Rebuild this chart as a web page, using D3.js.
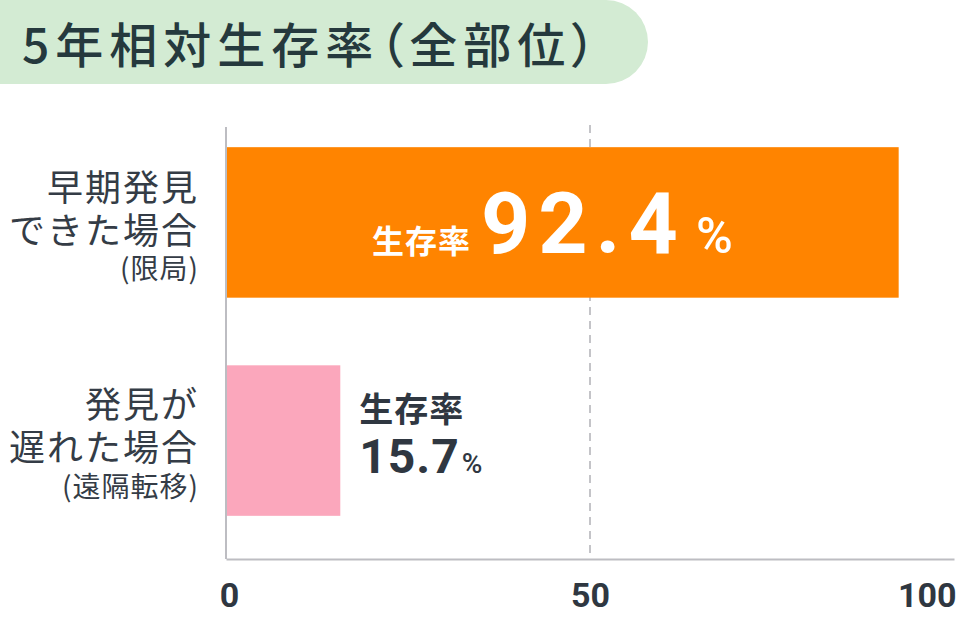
<!DOCTYPE html>
<html>
<head>
<meta charset="utf-8">
<script src="https://cdn.jsdelivr.net/npm/d3@7"></script>
<style>
  body { margin: 0; background: #fff; }
</style>
</head>
<body>
<script>
// data
var title = "5年相対生存率（全部位）";
var labelLines = [["早期発見", "できた場合"], ["発見が", "遅れた場合"]];
var subLabels = ["(限局)", "(遠隔転移)"];
var valueName = "生存率";
var values = [92.4, 15.7];
var xTicks = [0, 50, 100];
var refLine = 50;

var w = 960;
var h = 626;
var dark = "#2f3741";
var cjk = "'Noto Sans CJK JP', 'Noto Sans', sans-serif";
var num = "Roboto, 'Noto Sans CJK JP', sans-serif";

var svg = d3.select("body")
  .append("svg")
  .attr("width", w)
  .attr("height", h)
  .attr("font-family", cjk);

// title pill
svg.append("rect")
  .attr("x", -60)
  .attr("y", 0)
  .attr("width", 708)
  .attr("height", 84)
  .attr("rx", 42)
  .attr("fill", "#d3ebd3");

svg.append("text")
  .attr("x", 22)
  .attr("y", 63)
  .attr("font-size", "48px")
  .attr("font-weight", 500)
  .attr("letter-spacing", "6px")
  .attr("fill", "#25393d")
  .style("font-feature-settings", "'palt'")
  .text(title);

// scales
var x = d3.scaleLinear().domain([0, 100]).range([226, 954]);
var y = d3.scaleBand()
  .domain(d3.range(values.length))
  .range([121, 542])
  .paddingInner(0.31)
  .paddingOuter(0.12);

var axisY = 559;

// reference dashed line
svg.append("line")
  .attr("x1", x(refLine)).attr("x2", x(refLine))
  .attr("y1", 125).attr("y2", axisY)
  .attr("stroke", "#c4c4c8")
  .attr("stroke-width", 2)
  .attr("stroke-dasharray", "8,6");

// bars
var colors = ["#ff8400", "#fba7bc"];
svg.selectAll("rect.bar")
  .data(values)
  .enter()
  .append("rect")
  .attr("class", "bar")
  .attr("x", x(0))
  .attr("y", function(d, i) { return y(i); })
  .attr("width", function(d) { return x(d) - x(0); })
  .attr("height", y.bandwidth())
  .attr("fill", function(d, i) { return colors[i]; });

// vertical axis line
svg.append("line")
  .attr("x1", x(0)).attr("x2", x(0))
  .attr("y1", 127).attr("y2", axisY)
  .attr("stroke", "#bdbdc2")
  .attr("stroke-width", 2);

// x axis
var xAxis = d3.axisBottom(x)
  .tickValues(xTicks)
  .tickSize(0)
  .tickSizeOuter(0)
  .tickPadding(0);

var gx = svg.append("g")
  .attr("transform", "translate(0," + axisY + ")")
  .call(xAxis);

gx.attr("font-family", num).attr("font-size", null);

gx.select(".domain")
  .attr("stroke", "#bdbdc2")
  .attr("stroke-width", 2);

gx.selectAll(".tick text")
  .attr("y", 48)
  .attr("dy", null)
  .attr("font-size", "34px")
  .attr("font-weight", 700)
  .attr("fill", dark)
  .attr("text-anchor", function(d) { return d === 100 ? "end" : "middle"; })
  .attr("dx", function(d) { return d === 0 ? 3 : (d === 100 ? 2 : 0); });

// category labels
var labelX = 199;
var cats = svg.selectAll("g.cat")
  .data(values)
  .enter()
  .append("g")
  .attr("class", "cat");

cats.each(function(d, i) {
  var g = d3.select(this);
  var top = y(i);
  var offsets = i === 0 ? [54, 97] : [53, 96];
  labelLines[i].forEach(function(line, j) {
    g.append("text")
      .attr("x", labelX)
      .attr("y", top + offsets[j])
      .attr("text-anchor", "end")
      .attr("font-size", "36px")
      .attr("letter-spacing", "2px")
      .attr("fill", "#343c46")
      .text(line);
  });
  g.append("text")
    .attr("x", labelX)
    .attr("y", top + 132)
    .attr("text-anchor", "end")
    .attr("font-size", "28px")
    .attr("letter-spacing", "1px")
    .attr("fill", "#343c46")
    .text(subLabels[i]);
});

// value label inside the first bar
var v0 = values[0];
var t0 = svg.append("text")
  .attr("x", (x(0) + x(v0)) / 2 - 10)
  .attr("y", y(0) + 106)
  .attr("text-anchor", "middle")
  .attr("fill", "#fff")
  .attr("font-weight", 700);
t0.append("tspan")
  .attr("font-size", "32px")
  .attr("letter-spacing", "1px")
  .text(valueName);
t0.append("tspan")
  .attr("dx", 10)
  .attr("font-family", num)
  .attr("font-size", "86px")
  .attr("letter-spacing", "8px")
  .text(v0);
t0.append("tspan")
  .attr("dx", 10)
  .attr("font-family", num)
  .attr("font-weight", 500)
  .attr("font-size", "50px")
  .text("%");

// value label beside the second bar
var v1 = values[1];
var lx = x(v1) + 19;
svg.append("text")
  .attr("x", lx)
  .attr("y", y(1) + 57)
  .attr("font-size", "34px")
  .attr("font-weight", 700)
  .attr("letter-spacing", "1px")
  .attr("fill", dark)
  .text(valueName);
var t1 = svg.append("text")
  .attr("x", lx)
  .attr("y", y(1) + 108)
  .attr("fill", dark)
  .attr("font-family", num)
  .attr("font-weight", 700);
t1.append("tspan")
  .attr("font-size", "48px")
  .attr("letter-spacing", "1px")
  .text(v1);
t1.append("tspan")
  .attr("dx", 2)
  .attr("font-weight", 500)
  .attr("font-size", "28px")
  .text("%");
</script>
</body>
</html>
